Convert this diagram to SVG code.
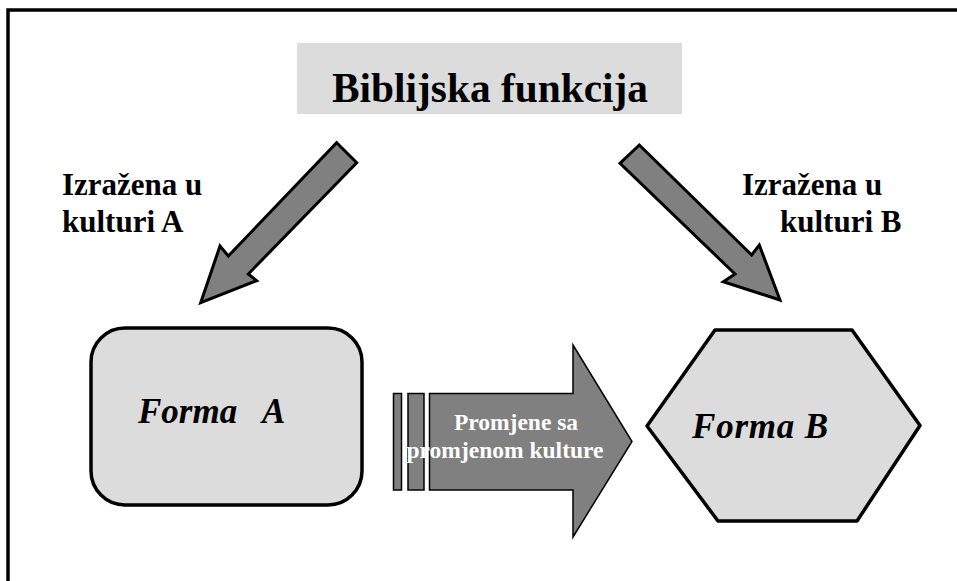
<svg xmlns="http://www.w3.org/2000/svg" width="957" height="581" viewBox="0 0 957 581">
<style>
text{font-family:'Liberation Serif','Times New Roman','DejaVu Serif',serif}
.lbl{font-weight:bold;fill:#000}
.big{font-size:31px}
.form{font-weight:bold;font-style:italic;font-size:35px;fill:#000}
.wt{font-weight:bold;font-size:23.5px;fill:#fff;text-anchor:middle}
.shape{fill:#DCDCDC;stroke:#000;stroke-width:3.5;stroke-linejoin:round}
.arr{fill:#808080;stroke:#000;stroke-width:3;stroke-linejoin:miter}
.thin{fill:#808080;stroke:#000;stroke-width:1.5}
</style>
<rect width="957" height="581" fill="#fff"/>
<path d="M8,581 V10 H957" fill="none" stroke="#000" stroke-width="3.5"/>

<g id="title">
<rect x="297" y="43" width="385" height="71" fill="#DCDCDC"/>
<text class="lbl" x="332" y="102" font-family="Liberation Serif, serif" font-size="42" textLength="316" lengthAdjust="spacingAndGlyphs">Biblijska funkcija</text>
</g>

<g id="label-a">
<text class="lbl big" x="62" y="195" font-family="Liberation Serif, serif">Izražena u</text>
<text class="lbl big" x="62" y="232" font-family="Liberation Serif, serif">kulturi A</text>
</g>
<g id="label-b">
<text class="lbl big" x="742" y="195" font-family="Liberation Serif, serif">Izražena u</text>
<text class="lbl big" x="780" y="232" font-family="Liberation Serif, serif">kulturi B</text>
</g>

<g id="connectors">
<polygon class="arr" points="336.7,142.7 356.7,162.7 248.3,274 256.7,280.7 200.7,302.7 220,246 228.3,256"/>
<polygon class="arr" points="639.3,145 751.7,255 759.3,245 780,300 723.3,281.7 735,274 620,163.3"/>
<g id="change-arrow">
<rect class="thin" x="393.5" y="393.5" width="8" height="96.5"/>
<rect class="thin" x="408" y="393.5" width="16" height="96.5"/>
<polygon class="thin" points="429.5,393.5 573,393.5 573,345 632,441.5 573,537 573,490 429.5,490"/>
<text class="wt" x="516" y="430" font-family="Liberation Serif, serif">Promjene sa</text>
<text class="wt" x="505" y="458" font-family="Liberation Serif, serif">promjenom kulture</text>
</g>
</g>

<g id="forma-a">
<rect class="shape" x="91" y="328" width="271" height="177" rx="34" ry="34"/>
<text class="form" y="423" font-family="Liberation Serif, serif"><tspan x="138">Forma</tspan><tspan x="262">A</tspan></text>
</g>

<g id="forma-b">
<polygon class="shape" points="715,330 852,330 920,425.5 857,521 718,521 647,426"/>
<text class="form" x="692" y="438" font-family="Liberation Serif, serif" textLength="136" lengthAdjust="spacing">Forma B</text>
</g>
</svg>
